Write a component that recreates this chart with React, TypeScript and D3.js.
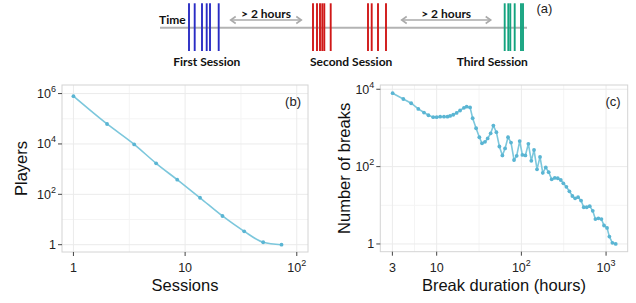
import React from "react";
import * as d3 from "d3";

// panel (b): players per number of sessions
const sessions = [1, 2, 3.5, 5.5, 8.5, 13.6, 21.6, 33.8, 50, 73];
const players = [790000, 62000, 9600, 1700, 380, 73, 13.8, 3.4, 1.25, 1];

// panel (c): break duration histogram
const breakHours = [
  3.02, 4.04, 5.0, 6.07, 7.08, 8.0, 9.1, 10, 11, 12.2, 13.4, 14.4, 15.7, 17.2, 18.9, 21, 22.6, 24.8,
  26.6, 29.2, 31.9, 34.3, 37.2, 40, 43.4, 46.7, 50.7, 55, 59.7, 64.2, 69.6, 75.5, 81.9, 88, 95.5,
  102.8, 111.5, 121, 131, 141, 153, 166, 179, 194, 210, 228, 248, 269, 292, 313, 340, 369, 400, 431,
  467, 507, 545, 591, 641, 696, 748, 811, 881, 946, 1027, 1094, 1188, 1300,
];
const breakCounts = [
  7900, 5600, 4350, 3100, 2500, 2130, 1900, 1900, 1950, 1950, 1950, 2040, 2190, 2450, 2820, 3310, 3550,
  3390, 1780, 980, 575, 400, 437, 537, 724, 1150, 776, 331, 195, 295, 575, 417, 148, 190, 457, 200,
  195, 389, 141, 269, 85, 178, 69, 95, 72, 47, 51, 50, 45, 37, 30, 23, 17.4, 15.1, 16.2, 13.2, 8.9,
  8.9, 9.5, 7.2, 4.4, 4.6, 4.4, 3.0, 2.6, 1.55, 1.07, 1,
];

// panel (a): session timeline
const blueEvents = [189, 194.7, 202, 206.7, 210, 218.7];
const redEvents = [313, 317, 320, 322.3, 324.3, 330.7, 368, 371.7, 378, 386];
const greenEvents = [504.7, 508.3, 510.3, 514.7, 521, 523];
const sessionLabels = ["First Session", "Second Session", "Third Session"];

const lineColor = "#7cc7dc";
const pointColor = "#5ab5d3";
const sans = "'Liberation Sans', Arial, sans-serif";
const bold = "Lato, 'Open Sans', sans-serif";

type Tick = { v: number; base: string; sup?: string };

function Panel(props: {
  xs: number[];
  ys: number[];
  xDomain: [number, number];
  yDomain: [number, number];
  x0: number;
  x1: number;
  y0: number;
  y1: number;
  xTicks: Tick[];
  yTicks: Tick[];
  xMinor: number[];
  yMinor: number[];
  xLabel: string;
  yLabel: string;
  yLabelX: number;
  tag: string;
  curve: d3.CurveFactory;
}) {
  const { x0, x1, y0, y1 } = props;
  const x = d3.scaleLog().domain(props.xDomain).range([x0, x1]);
  const y = d3.scaleLog().domain(props.yDomain).range([y1, y0]);
  const pts = props.xs.map((v, i) => [x(v), y(props.ys[i])] as [number, number]);
  const line = d3.line().curve(props.curve)(pts) || "";
  const label = (t: Tick) => (
    <>
      {t.base}
      {t.sup && (
        <tspan fontSize={9} dy={-6}>
          {t.sup}
        </tspan>
      )}
    </>
  );
  return (
    <g>
      <rect x={x0} y={y0} width={x1 - x0} height={y1 - y0} fill="#fff" />
      {props.xMinor.map((v) => (
        <line key={"xm" + v} x1={x(v)} x2={x(v)} y1={y0} y2={y1} stroke="#f4f4f4" />
      ))}
      {props.yMinor.map((v) => (
        <line key={"ym" + v} x1={x0} x2={x1} y1={y(v)} y2={y(v)} stroke="#f4f4f4" />
      ))}
      {props.xTicks.map((t) => (
        <line key={"xg" + t.v} x1={x(t.v)} x2={x(t.v)} y1={y0} y2={y1} stroke="#ebebeb" />
      ))}
      {props.yTicks.map((t) => (
        <line key={"yg" + t.v} x1={x0} x2={x1} y1={y(t.v)} y2={y(t.v)} stroke="#ebebeb" />
      ))}
      <rect x={x0} y={y0} width={x1 - x0} height={y1 - y0} fill="none" stroke="#d4d4d4" />
      <path d={line} fill="none" stroke={lineColor} strokeWidth={1.6} />
      {pts.map((p, i) => (
        <circle key={i} cx={p[0]} cy={p[1]} r={1.9} fill={pointColor} />
      ))}
      {props.xTicks.map((t) => (
        <g key={"xt" + t.v}>
          <line x1={x(t.v)} x2={x(t.v)} y1={y1} y2={y1 + 4} stroke="#444" />
          <text x={x(t.v)} y={y1 + 20} textAnchor="middle" fontSize={12.5} fill="#222" fontFamily={sans}>
            {label(t)}
          </text>
        </g>
      ))}
      {props.yTicks.map((t) => (
        <g key={"yt" + t.v}>
          <line x1={x0 - 4} x2={x0} y1={y(t.v)} y2={y(t.v)} stroke="#444" />
          <text x={x0 - 6} y={y(t.v) + 4.5} textAnchor="end" fontSize={12.5} fill="#222" fontFamily={sans}>
            {label(t)}
          </text>
        </g>
      ))}
      <text x={(x0 + x1) / 2} y={291} textAnchor="middle" fontSize={16.5} fill="#111" fontFamily={sans}>
        {props.xLabel}
      </text>
      <text
        transform={`translate(${props.yLabelX},${(y0 + y1) / 2}) rotate(-90)`}
        textAnchor="middle"
        fontSize={16.5}
        fill="#111"
        fontFamily={sans}
      >
        {props.yLabel}
      </text>
      <text x={x1 - 7} y={y0 + 21} textAnchor="end" fontSize={13} fill="#222" fontFamily={sans}>
        {props.tag}
      </text>
    </g>
  );
}

function Timeline() {
  const groups = [
    { ev: blueEvents, color: "#2a2dc4" },
    { ev: redEvents, color: "#d01818" },
    { ev: greenEvents, color: "#14a37f" },
  ];
  const labelX = [206.8, 351.2, 492.3];
  const arrows = [
    [230.7, 301.3],
    [401.7, 490.7],
  ];
  return (
    <g>
      <line x1={160} x2={527} y1={27.7} y2={27.7} stroke="#b3b3b3" strokeWidth={2} />
      <text x={159} y={24} fontSize={12} fontWeight="bold" fontFamily={bold} fill="#111">
        Time
      </text>
      {groups.map((g, gi) =>
        g.ev.map((v, i) => (
          <line key={gi + "-" + i} x1={v} x2={v} y1={3.3} y2={51} stroke={g.color} strokeWidth={1.9} />
        ))
      )}
      {arrows.map(([a, b], i) => (
        <g key={i} stroke="#aaaaaa" strokeWidth={1.6} fill="none">
          <line x1={a} x2={b} y1={20} y2={20} />
          <path d={`M${a + 5},16.5L${a},20L${a + 5},23.5`} />
          <path d={`M${b - 5},16.5L${b},20L${b - 5},23.5`} />
          <text
            x={(a + b) / 2}
            y={17.5}
            textAnchor="middle"
            fontSize={12}
            fontWeight="bold"
            fontFamily={bold}
            fill="#111"
            stroke="none"
          >
            {"> 2 hours"}
          </text>
        </g>
      ))}
      {sessionLabels.map((s, i) => (
        <text key={s} x={labelX[i]} y={66} textAnchor="middle" fontSize={12} fontWeight="bold" fontFamily={bold} fill="#111">
          {s}
        </text>
      ))}
      <text x={536.5} y={13} fontSize={13} fontFamily={sans} fill="#222">
        (a)
      </text>
    </g>
  );
}

export default function App() {
  return (
    <svg width={636} height={303} style={{ position: "absolute", left: 0, top: 0, background: "#fff" }}>
      <Timeline />
      <Panel
        xs={sessions}
        ys={players}
        xDomain={[0.79, 126]}
        yDomain={[Math.pow(10, -0.29), Math.pow(10, 6.34)]}
        x0={62}
        x1={308}
        y0={85}
        y1={252}
        xTicks={[
          { v: 1, base: "1" },
          { v: 10, base: "10" },
          { v: 100, base: "10", sup: "2" },
        ]}
        yTicks={[
          { v: 1, base: "1" },
          { v: 100, base: "10", sup: "2" },
          { v: 1e4, base: "10", sup: "4" },
          { v: 1e6, base: "10", sup: "6" },
        ]}
        xMinor={[Math.pow(10, 0.5), Math.pow(10, 1.5)]}
        yMinor={[10, 1e3, 1e5]}
        xLabel="Sessions"
        yLabel="Players"
        yLabelX={27}
        tag="(b)"
        curve={d3.curveMonotoneX}
      />
      <Panel
        xs={breakHours}
        ys={breakCounts}
        xDomain={[2.16, 1800]}
        yDomain={[Math.pow(10, -0.2), Math.pow(10, 4.11)]}
        x0={380.3}
        x1={627.7}
        y0={85}
        y1={251.7}
        xTicks={[
          { v: 3, base: "3" },
          { v: 10, base: "10" },
          { v: 100, base: "10", sup: "2" },
          { v: 1000, base: "10", sup: "3" },
        ]}
        yTicks={[
          { v: 1, base: "1" },
          { v: 100, base: "10", sup: "2" },
          { v: 1e4, base: "10", sup: "4" },
        ]}
        xMinor={[Math.sqrt(30), Math.pow(10, 1.5), Math.pow(10, 2.5)]}
        yMinor={[10, 1e3]}
        xLabel="Break duration (hours)"
        yLabel="Number of breaks"
        yLabelX={350}
        tag="(c)"
        curve={d3.curveLinear}
      />
    </svg>
  );
}
